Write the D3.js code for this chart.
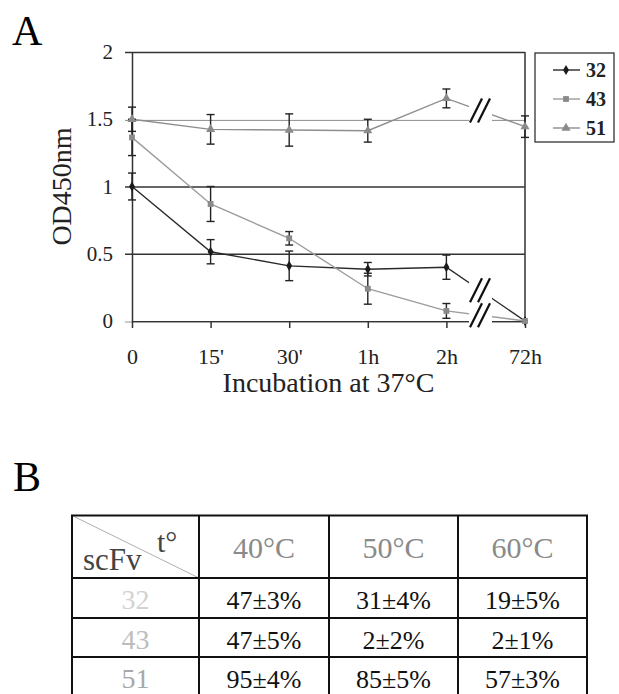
<!DOCTYPE html>
<html>
<head>
<meta charset="utf-8">
<script src="https://cdn.jsdelivr.net/npm/d3@7"></script>
<style>
  body { margin: 0; background: #fff; }
  svg { display: block; font-family: "Liberation Serif", "Times New Roman", serif; }
</style>
</head>
<body>
<svg></svg>
<script>
const SVG_MEASURES = { width: 619, height: 694 }
const PLOT = { left: 132, right: 525, top: 52, bottom: 321 }

// panel A data
const timePoints = ['0', "15'", "30'", '1h', '2h', '72h']
const yTicks = [0, 0.5, 1, 1.5, 2]
const seriesNames = ['32', '43', '51']
const od32 = [1.0, 0.515, 0.41, 0.385, 0.40, 0.0]
const err32 = [0.10, 0.09, 0.11, 0.05, 0.09, 0]
const od43 = [1.365, 0.87, 0.615, 0.24, 0.075, 0.0]
const err43 = [0.135, 0.13, 0.05, 0.115, 0.055, 0]
const od51 = [1.50, 1.425, 1.42, 1.415, 1.655, 1.445]
const err51 = [0.09, 0.11, 0.12, 0.085, 0.07, 0.08]

// panel B data
const tempHeaders = ['40°C', '50°C', '60°C']
const rowLabels = ['32', '43', '51']
const stability = [
  ['47±3%', '31±4%', '19±5%'],
  ['47±5%', '2±2%', '2±1%'],
  ['95±4%', '85±5%', '57±3%']
]

const seriesStyle = {
  '32': { line: '#2a2a2a', mark: '#1a1a1a', symbol: d3.symbolDiamond, size: 30 },
  '43': { line: '#9c9c9c', mark: '#8a8a8a', symbol: d3.symbolSquare, size: 34 },
  '51': { line: '#8e8e8e', mark: '#8a8a8a', symbol: d3.symbolTriangle, size: 36 }
}

const series = [
  { name: '32', values: od32, errors: err32 },
  { name: '43', values: od43, errors: err43 },
  { name: '51', values: od51, errors: err51 }
]

const breakX = 480
const gap = [469, 492]

const svg = d3.select('svg')
  .attr('width', SVG_MEASURES.width)
  .attr('height', SVG_MEASURES.height)

svg.append('rect').attr('width', SVG_MEASURES.width).attr('height', SVG_MEASURES.height).attr('fill', '#fff')

const x = d3.scalePoint(timePoints, [PLOT.left, PLOT.right])
const y = d3.scaleLinear([0, 2], [PLOT.bottom, PLOT.top])

// clip that leaves out the axis break
const clip = svg.append('defs').append('clipPath').attr('id', 'gap-clip')
clip.append('rect').attr('x', 0).attr('y', 0).attr('width', gap[0]).attr('height', SVG_MEASURES.height)
clip.append('rect').attr('x', gap[1]).attr('y', 0).attr('width', SVG_MEASURES.width - gap[1]).attr('height', SVG_MEASURES.height)

// where each series crosses the break position
const valueAtBreak = s => {
  const i = timePoints.length - 2
  const t = (breakX - x(timePoints[i])) / (x(timePoints[i + 1]) - x(timePoints[i]))
  return s.values[i] + (s.values[i + 1] - s.values[i]) * t
}
const breakValues = series.map(valueAtBreak)
const isBroken = v => breakValues.some(b => Math.abs(b - v) < 0.15)

svg.append('text')
  .attr('x', 12).attr('y', 45)
  .attr('font-size', 42)
  .text('A')

// y axis with gridlines
const yAxis = svg.append('g')
  .attr('transform', `translate(${PLOT.left},0)`)
  .call(d3.axisLeft(y).tickValues(yTicks).tickSize(-(PLOT.right - PLOT.left)).tickSizeOuter(0).tickPadding(19).tickFormat(d3.format('')))

yAxis.select('.domain').attr('stroke', '#333').attr('stroke-width', 1.5)
yAxis.selectAll('.tick line')
  .attr('stroke', '#333')
  .attr('stroke-width', 1.5)
  .attr('transform', d => isBroken(d) ? `translate(${-PLOT.left},0)` : null)
  .attr('x1', d => isBroken(d) ? PLOT.left - 7 : -7)
  .attr('x2', d => isBroken(d) ? PLOT.right : PLOT.right - PLOT.left)
  .attr('clip-path', d => isBroken(d) ? 'url(#gap-clip)' : null)
yAxis.selectAll('.tick text')
  .attr('font-size', 21)
  .attr('font-family', '"Liberation Serif", serif')
  .attr('fill', '#222')

// right border
svg.append('line')
  .attr('x1', PLOT.right).attr('x2', PLOT.right)
  .attr('y1', PLOT.top).attr('y2', PLOT.bottom)
  .attr('stroke', '#333').attr('stroke-width', 1.5)

// x axis
const xAxis = svg.append('g')
  .attr('transform', `translate(0,${PLOT.bottom})`)
  .call(d3.axisBottom(x).tickSize(7).tickSizeOuter(0).tickPadding(20))

xAxis.select('.domain').attr('stroke', '#333').attr('stroke-width', 1.5)
  .attr('clip-path', isBroken(0) ? 'url(#gap-clip)' : null)
xAxis.selectAll('.tick line').attr('stroke', '#333').attr('stroke-width', 1.5)
xAxis.selectAll('.tick text')
  .attr('font-size', 22)
  .attr('font-family', '"Liberation Serif", serif')
  .attr('fill', '#222')

svg.append('text')
  .attr('x', (PLOT.left + PLOT.right) / 2).attr('y', 392)
  .attr('text-anchor', 'middle')
  .attr('font-size', 28)
  .attr('fill', '#222')
  .text('Incubation at 37°C')

svg.append('text')
  .attr('transform', `translate(71,${(PLOT.top + PLOT.bottom) / 2}) rotate(-90)`)
  .attr('text-anchor', 'middle')
  .attr('font-size', 28)
  .attr('fill', '#222')
  .text('OD450nm')

// series lines
const line = d3.line()
  .x((d, i) => x(timePoints[i]))
  .y(d => y(d))

const lines = svg.append('g').attr('clip-path', 'url(#gap-clip)')
lines.selectAll('path')
  .data(series)
  .join('path')
    .attr('d', d => line(d.values))
    .attr('fill', 'none')
    .attr('stroke', d => seriesStyle[d.name].line)
    .attr('stroke-width', 1.4)

// error bars
const errorGroup = svg.append('g')
series.forEach(s => {
  const bars = errorGroup.append('g')
    .selectAll('g')
    .data(s.values.map((v, i) => ({ v, e: s.errors[i], t: timePoints[i] })).filter(d => d.e > 0))
    .join('g')
  bars.append('line')
    .attr('x1', d => x(d.t)).attr('x2', d => x(d.t))
    .attr('y1', d => y(d.v - d.e)).attr('y2', d => y(d.v + d.e))
  bars.append('line')
    .attr('x1', d => x(d.t) - 4).attr('x2', d => x(d.t) + 4)
    .attr('y1', d => y(d.v + d.e)).attr('y2', d => y(d.v + d.e))
  bars.append('line')
    .attr('x1', d => x(d.t) - 4).attr('x2', d => x(d.t) + 4)
    .attr('y1', d => y(d.v - d.e)).attr('y2', d => y(d.v - d.e))
  bars.selectAll('line').attr('stroke', '#222').attr('stroke-width', 1.4)
})

// markers
series.forEach(s => {
  const st = seriesStyle[s.name]
  svg.append('g')
    .selectAll('path')
    .data(s.values)
    .join('path')
      .attr('transform', (d, i) => `translate(${x(timePoints[i])},${y(d)})`)
      .attr('d', d3.symbol(st.symbol, st.size))
      .attr('fill', st.mark)
})

// break marks //
const breakMarks = svg.append('g')
const markYs = breakValues.map(v => y(v))
  .filter((v, i, arr) => arr.findIndex(o => Math.abs(o - v) < 8) === i)
markYs.forEach(my => {
  const cy = Math.min(my, PLOT.bottom)
  ;[-4, 4].forEach(dx => {
    breakMarks.append('line')
      .attr('x1', breakX + dx - 6).attr('y1', cy + 12)
      .attr('x2', breakX + dx + 6).attr('y2', cy - 12)
      .attr('stroke', '#111').attr('stroke-width', 2.2)
  })
})

// legend
const legend = svg.append('g').attr('transform', 'translate(535,53)')
legend.append('rect')
  .attr('width', 79).attr('height', 89)
  .attr('fill', '#fff').attr('stroke', '#333').attr('stroke-width', 1.3)
const legendItems = legend.selectAll('g')
  .data(seriesNames)
  .join('g')
    .attr('transform', (d, i) => `translate(0,${17 + i * 29})`)
legendItems.append('line')
  .attr('x1', 18).attr('x2', 45)
  .attr('stroke', d => seriesStyle[d].line).attr('stroke-width', 1.4)
legendItems.append('path')
  .attr('transform', 'translate(31,0)')
  .attr('d', d => d3.symbol(seriesStyle[d].symbol, seriesStyle[d].size)())
  .attr('fill', d => seriesStyle[d].mark)
legendItems.append('text')
  .attr('x', 51).attr('dy', '0.35em')
  .attr('font-size', 20)
  .attr('font-weight', 'bold')
  .attr('fill', '#222')
  .text(d => d)

// panel B
svg.append('text')
  .attr('x', 13).attr('y', 491)
  .attr('font-size', 42)
  .text('B')

const colEdges = [72, 199, 329, 458, 587]
const rowEdges = [515.5, 578, 618, 657, 696]
const rowLabelColors = ['#d2d2d2', '#bdbdbd', '#a8a8a8']

const table = svg.append('g')

table.append('line')
  .attr('x1', colEdges[0]).attr('y1', rowEdges[0])
  .attr('x2', colEdges[1]).attr('y2', rowEdges[1])
  .attr('stroke', '#b0b0b0').attr('stroke-width', 1)

table.selectAll('line.row')
  .data(rowEdges)
  .join('line')
    .attr('class', 'row')
    .attr('x1', colEdges[0] - 1).attr('x2', colEdges[colEdges.length - 1] + 1)
    .attr('y1', d => d).attr('y2', d => d)
    .attr('stroke', '#111').attr('stroke-width', 2)

table.selectAll('line.col')
  .data(colEdges)
  .join('line')
    .attr('class', 'col')
    .attr('x1', d => d).attr('x2', d => d)
    .attr('y1', rowEdges[0]).attr('y2', rowEdges[rowEdges.length - 1])
    .attr('stroke', '#111').attr('stroke-width', 2)

const colCenter = i => (colEdges[i] + colEdges[i + 1]) / 2

table.append('text')
  .attr('x', 83).attr('y', 570)
  .attr('font-size', 31)
  .attr('fill', '#444')
  .text('scFv')
table.append('text')
  .attr('x', 157).attr('y', 552)
  .attr('font-size', 30)
  .attr('fill', '#444')
  .text('t°')

table.selectAll('text.head')
  .data(tempHeaders)
  .join('text')
    .attr('class', 'head')
    .attr('x', (d, i) => colCenter(i + 1)).attr('y', 558)
    .attr('text-anchor', 'middle')
    .attr('font-size', 30)
    .attr('fill', '#8a8a8a')
    .text(d => d)

table.selectAll('text.rowlabel')
  .data(rowLabels)
  .join('text')
    .attr('class', 'rowlabel')
    .attr('x', colCenter(0)).attr('y', (d, i) => rowEdges[i + 1] + 31)
    .attr('text-anchor', 'middle')
    .attr('font-size', 28)
    .attr('fill', (d, i) => rowLabelColors[i])
    .text(d => d)

stability.forEach((row, r) => {
  table.append('g')
    .selectAll('text')
    .data(row)
    .join('text')
      .attr('x', (d, i) => colCenter(i + 1)).attr('y', rowEdges[r + 1] + 31)
      .attr('text-anchor', 'middle')
      .attr('font-size', 26)
      .attr('fill', '#111')
      .text(d => d)
})
</script>
</body>
</html>
